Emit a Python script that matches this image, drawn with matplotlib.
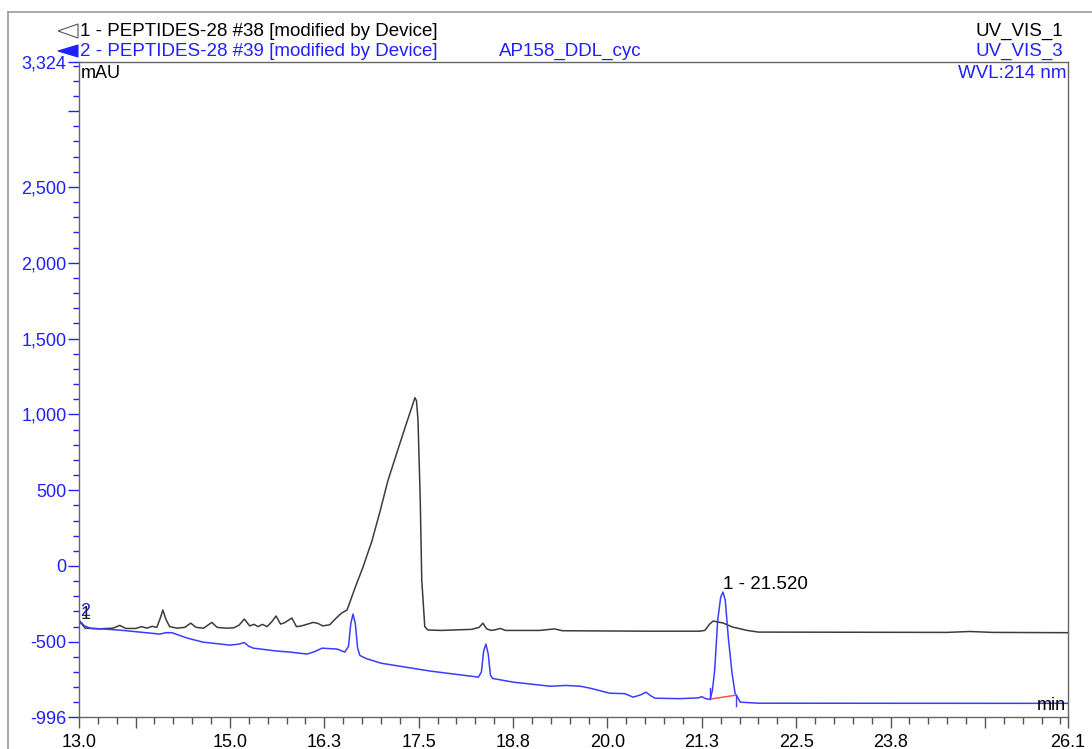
import matplotlib
matplotlib.use("Agg")
import matplotlib.pyplot as plt
from matplotlib.lines import Line2D
from matplotlib.patches import Polygon

plt.rcParams['font.family'] = ['Liberation Sans', 'DejaVu Sans']

# channel 1 (UV_VIS_1), black trace: time [min], signal [mAU]
t1 = [13.00, 13.04, 13.08, 13.25, 13.45, 13.54, 13.62, 13.75, 13.83, 13.90, 13.97, 14.03,
      14.08, 14.11, 14.15, 14.20, 14.30, 14.40, 14.48, 14.55, 14.65, 14.76, 14.83, 14.95,
      15.05, 15.12, 15.19, 15.26, 15.32, 15.37, 15.43, 15.49, 15.55, 15.61, 15.67, 15.72,
      15.82, 15.88, 15.95, 16.05, 16.10, 16.16, 16.23, 16.32, 16.42, 16.48, 16.55, 16.66,
      16.76, 16.88, 16.99, 17.09, 17.21, 17.32, 17.41, 17.45, 17.47, 17.49, 17.52, 17.54,
      17.58, 17.62, 17.80, 18.20, 18.30, 18.35, 18.40, 18.46, 18.52, 18.58, 18.65, 19.10,
      19.30, 19.40, 20.50, 21.22, 21.29, 21.35, 21.40, 21.53, 21.66, 21.85, 22.00, 24.50,
      24.80, 25.10, 26.10]
v1 = [-355, -385, -410, -415, -410, -392, -412, -412, -400, -410, -398, -405,
      -340, -290, -350, -400, -410, -405, -377, -405, -410, -372, -405, -410,
      -408, -390, -350, -395, -385, -400, -385, -400, -370, -330, -383, -375,
      -343, -400, -395, -380, -372, -378, -395, -388, -337, -310, -291, -139,
      -10, 165, 365, 560, 746, 915, 1050, 1110, 1090, 964, 436, -92,
      -400, -422, -425, -418, -405, -377, -415, -425, -420, -412, -425, -425,
      -415, -427, -430, -430, -425, -385, -363, -376, -403, -425, -436, -438,
      -432, -438, -440]

# channel 3 (UV_VIS_3), blue trace
t3 = [13.00, 13.03, 13.07, 13.15, 13.54, 14.07, 14.15, 14.23, 14.43, 14.64, 15.00, 15.12,
      15.19, 15.25, 15.31, 15.62, 15.80, 16.02, 16.12, 16.22, 16.42, 16.52, 16.57, 16.60,
      16.63, 16.66, 16.69, 16.72, 16.80, 17.00, 17.65, 18.29, 18.33, 18.36, 18.39, 18.42,
      18.45, 18.48, 18.75, 19.24, 19.45, 19.64, 19.77, 20.03, 20.23, 20.34, 20.44, 20.51,
      20.57, 20.63, 20.95, 21.20, 21.25, 21.30, 21.36, 21.39, 21.42, 21.46, 21.50, 21.53,
      21.56, 21.60, 21.65, 21.69, 21.76, 22.00, 26.10]
v3 = [-385, -372, -395, -410, -423, -449, -440, -440, -475, -502, -522, -515,
      -505, -530, -542, -561, -568, -581, -565, -542, -548, -568, -530, -380,
      -317, -380, -540, -590, -610, -641, -693, -733, -700, -560, -515, -580,
      -720, -742, -766, -793, -788, -793, -806, -839, -842, -865, -850, -832,
      -855, -872, -875, -870, -862, -875, -880, -820, -687, -357, -205, -172,
      -225, -469, -707, -839, -898, -905, -906]

# integration baseline of peak 1
base_t = [21.36, 21.70]
base_v = [-878, -852]
peak_label = "1 - 21.520"

xticks = [13.0, 13.75, 15.0, 16.25, 17.5, 18.75, 20.0, 21.25, 22.5, 23.75, 25.0, 26.1]
xlabels = ["13.0", "", "15.0", "16.3", "17.5", "18.8", "20.0", "21.3", "22.5", "23.8", "", "26.1"]
yticks = [-996, -500, 0, 500, 1000, 1500, 2000, 2500, 3000, 3324]
ylabels = ["-996", "-500", "0", "500", "1,000", "1,500", "2,000", "2,500", "", "3,324"]

W, H = 1092, 749
BLUE = "#2020ff"


def fx(x):
    return x / W


def fy(y):
    return 1 - y / H


fig = plt.figure(figsize=(W / 100, H / 100), dpi=100)
ax = fig.add_axes([fx(79), fy(717), fx(1068) - fx(79), fy(62) - fy(717)])

ax.plot(t1, v1, color="#3c3c3c", lw=1.1)
ax.plot(t3, v3, color="#3c3cff", lw=1.1)
ax.plot(base_t, base_v, color="#ff5050", lw=1.1)
ax.plot([base_t[0]] * 2, [-878, -805], color="#3c3cff", lw=1.0)
ax.plot([base_t[1]] * 2, [-852, -925], color="#3c3cff", lw=1.0)

ax.set_xlim(13.0, 26.1)
ax.set_ylim(-996, 3324)

ax.set_xticks(xticks)
ax.set_xticklabels(xlabels)
ax.set_xticks([13.0 + 0.25 * i for i in range(53)], minor=True)
ax.set_yticks(yticks)
ax.set_yticklabels(ylabels)
ax.set_yticks(list(range(-900, 3324, 100)), minor=True)

ax.tick_params(axis="x", which="major", length=8, width=1, color="#555555",
               labelsize=13, pad=4)
ax.tick_params(axis="x", which="minor", length=5, width=1, color="#555555")
ax.tick_params(axis="y", which="major", length=8, width=1, color=BLUE,
               labelcolor=BLUE, labelsize=13, pad=1)
ax.tick_params(axis="y", which="minor", length=4, width=1, color=BLUE)
for s in ax.spines.values():
    s.set_color("#666666")
    s.set_linewidth(1.0)

# in-plot labels
ax.text(0.002, 0.995, "mAU", transform=ax.transAxes, ha="left", va="top", fontsize=13)
ax.text(0.998, 0.995, "WVL:214 nm", transform=ax.transAxes, ha="right", va="top",
        fontsize=13.5, color=BLUE)
ax.text(0.998, 0.005, "min", transform=ax.transAxes, ha="right", va="bottom", fontsize=13)
ax.annotate(peak_label, xy=(21.53, -172), xytext=(0, 2), textcoords="offset points",
            ha="left", va="baseline", fontsize=13.5)
ax.text(13.01, -300, "2", color=BLUE, fontsize=13, ha="left", va="center")
ax.text(13.02, -320, "1", color="#222222", fontsize=13, ha="left", va="center")

# header
fig.text(fx(80), fy(31), "1 - PEPTIDES-28 #38 [modified by Device]", fontsize=13.5,
         ha="left", va="center")
fig.text(fx(80), fy(51), "2 - PEPTIDES-28 #39 [modified by Device]", fontsize=13.5,
         ha="left", va="center", color=BLUE)
fig.text(fx(570), fy(51), "AP158_DDL_cyc", fontsize=13.5, ha="center", va="center", color=BLUE)
fig.text(fx(1063), fy(31), "UV_VIS_1", fontsize=13.5, ha="right", va="center")
fig.text(fx(1063), fy(51), "UV_VIS_3", fontsize=13.5, ha="right", va="center", color=BLUE)
fig.patches.append(Polygon([(fx(58), fy(31)), (fx(78), fy(24)), (fx(78), fy(38))],
                           closed=True, fill=False, edgecolor="#555555", lw=0.8,
                           transform=fig.transFigure))
fig.patches.append(Polygon([(fx(58), fy(51)), (fx(78), fy(45)), (fx(78), fy(57))],
                           closed=True, facecolor=BLUE, edgecolor=BLUE, lw=0.8,
                           transform=fig.transFigure))

# outer frame
fig.add_artist(Line2D([fx(8), fx(8)], [fy(12), 0], color="#999999", lw=1.2))
fig.add_artist(Line2D([fx(8), 1], [fy(12), fy(12)], color="#999999", lw=1.2))

fig.savefig("out.png", dpi=100)
